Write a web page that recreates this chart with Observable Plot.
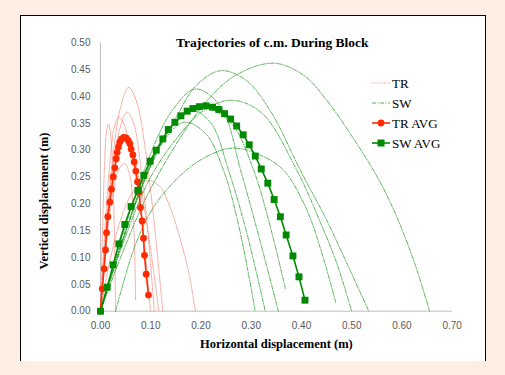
<!DOCTYPE html>
<html>
<head>
<meta charset="utf-8">
<script src="https://cdn.jsdelivr.net/npm/d3@7"></script>
<script src="https://cdn.jsdelivr.net/npm/@observablehq/plot@0.6"></script>
<style>
  html, body { margin: 0; padding: 0; background: #fdede2; width: 505px; height: 375px; overflow: hidden; }
  #box { position: absolute; left: 20px; top: 15px; width: 464px; height: 345px; background: #fff;
         border-left: 1px solid #000; border-top: 1px solid #000; border-right: 1px solid #000; }
  #chart { position: absolute; left: 0; top: 0; }
  #legend { position: absolute; left: 0; top: 0; }
</style>
</head>
<body>
<div id="box"></div>
<div id="chart"></div>
<svg id="legend" width="505" height="375"></svg>
<script>
// ---- data ----
const xTicks = [0, 0.1, 0.2, 0.3, 0.4, 0.5, 0.6, 0.7];
const yTicks = [0, 0.05, 0.1, 0.15, 0.2, 0.25, 0.3, 0.35, 0.4, 0.45, 0.5];

const trAvgX = [0, 0.0033, 0.0073, 0.010, 0.012, 0.0146, 0.0186, 0.0219, 0.0252, 0.0285, 0.0312, 0.0332, 0.0358, 0.0385, 0.0418, 0.0464, 0.0511, 0.055, 0.0584, 0.061, 0.0644, 0.0670, 0.0703, 0.0736, 0.0769, 0.0796, 0.0829, 0.0856, 0.0876, 0.0909, 0.0955];
const trAvgY = [0, 0.0416, 0.0789, 0.114, 0.146, 0.176, 0.203, 0.227, 0.250, 0.267, 0.284, 0.296, 0.306, 0.315, 0.321, 0.324, 0.323, 0.318, 0.312, 0.302, 0.291, 0.278, 0.261, 0.241, 0.222, 0.193, 0.168, 0.136, 0.104, 0.069, 0.030];

const swAvgX = [0, 0.0133, 0.0252, 0.0365, 0.0484, 0.0610, 0.0743, 0.0862, 0.0988, 0.111, 0.124, 0.135, 0.148, 0.160, 0.1725, 0.184, 0.197, 0.210, 0.223, 0.2355, 0.247, 0.259, 0.271, 0.284, 0.296, 0.308, 0.320, 0.333, 0.3456, 0.358, 0.3695, 0.383, 0.395, 0.407];
const swAvgY = [0, 0.0447, 0.0863, 0.1255, 0.1615, 0.195, 0.225, 0.253, 0.2795, 0.300, 0.321, 0.3385, 0.352, 0.364, 0.3727, 0.3776, 0.381, 0.3826, 0.380, 0.3758, 0.368, 0.358, 0.345, 0.3286, 0.310, 0.289, 0.265, 0.2385, 0.208, 0.176, 0.142, 0.103, 0.064, 0.0205];

// individual trials, TR (points [x, y])
const tr1 = [[0,0],[0.004,0.15],[0.008,0.27],[0.012,0.335],[0.016,0.349],[0.021,0.32],[0.025,0.24],[0.028,0.13],[0.030,0]];
const tr2 = [[0,0],[0.01,0.17],[0.02,0.29],[0.028,0.345],[0.036,0.361],[0.046,0.35],[0.06,0.30],[0.075,0.22],[0.088,0.12],[0.0995,0]];
const tr3 = [[0,0],[0.012,0.15],[0.025,0.27],[0.04,0.345],[0.053,0.371],[0.066,0.35],[0.08,0.27],[0.093,0.16],[0.107,0]];
const tr4 = [[0,0],[0.012,0.16],[0.025,0.29],[0.04,0.38],[0.056,0.417],[0.072,0.39],[0.088,0.31],[0.104,0.19],[0.124,0]];
const tr5 = [[0,0],[0.012,0.13],[0.025,0.22],[0.037,0.265],[0.048,0.275],[0.058,0.255],[0.064,0.20],[0.068,0.11],[0.070,0.02]];
const tr6 = [[0,0],[0.02,0.10],[0.04,0.17],[0.06,0.215],[0.08,0.238],[0.0995,0.243],[0.12,0.23],[0.14,0.19],[0.16,0.13],[0.175,0.075],[0.189,0]];
const tr7 = [[0,0],[0.01,0.14],[0.022,0.25],[0.035,0.31],[0.046,0.33],[0.06,0.31],[0.078,0.24],[0.096,0.14],[0.116,0]];

// individual trials, SW
const swA = [[0,0],[0.04,0.10],[0.09,0.21],[0.15,0.31],[0.21,0.39],[0.27,0.44],[0.345,0.462],[0.405,0.439],[0.451,0.392],[0.4975,0.33],[0.551,0.25],[0.59,0.175],[0.625,0.09],[0.655,0]];
const swB = [[0,0],[0.04,0.12],[0.08,0.23],[0.12,0.31],[0.166,0.352],[0.21,0.33],[0.245,0.262],[0.275,0.16],[0.308,0]];
const swC = [[0,0],[0.04,0.12],[0.09,0.25],[0.13,0.33],[0.18,0.375],[0.22,0.35],[0.255,0.262],[0.29,0.15],[0.328,0]];
const swD = [[0,0],[0.04,0.13],[0.09,0.27],[0.14,0.37],[0.189,0.414],[0.24,0.38],[0.279,0.262],[0.315,0.14],[0.354,0]];
const swE = [[0,0],[0.04,0.12],[0.09,0.25],[0.14,0.34],[0.20,0.38],[0.26,0.35],[0.305,0.262],[0.34,0.15],[0.368,0.042]];
const swF = [[0.03,0],[0.07,0.125],[0.11,0.20],[0.17,0.262],[0.22,0.292],[0.265,0.304],[0.32,0.29],[0.365,0.262],[0.41,0.19],[0.44,0.11],[0.468,0.017]];
const swG = [[0,0],[0.05,0.14],[0.10,0.25],[0.15,0.32],[0.20,0.37],[0.259,0.393],[0.32,0.37],[0.391,0.262],[0.44,0.16],[0.47,0.09],[0.50,0]];
const swH = [[0,0],[0.05,0.15],[0.10,0.27],[0.15,0.36],[0.19,0.42],[0.239,0.448],[0.29,0.43],[0.34,0.37],[0.398,0.262],[0.45,0.17],[0.49,0.09],[0.534,0]];

const trTrials = [tr1, tr2, tr3, tr4, tr5, tr6, tr7];
const swTrials = [swA, swB, swC, swD, swE, swF, swG, swH];

const legendLabels = ["TR", "SW", "TR AVG", "SW AVG"];

// ---- build tables ----
const trRows = trTrials.flatMap((pts, i) => pts.map(([x, y]) => ({trial: "TR" + i, x, y})));
const swRows = swTrials.flatMap((pts, i) => pts.map(([x, y]) => ({trial: "SW" + i, x, y})));
const trAvg = trAvgX.map((x, i) => ({x, y: trAvgY[i]}));
const swAvg = swAvgX.map((x, i) => ({x, y: swAvgY[i]}));

const RED = "#ff2a00", GREEN = "#008a00";
const TRC = "#f3796a", SWC = "#2fa02f";
const SERIF = "Liberation Serif, Times New Roman, serif";

const plot = Plot.plot({
  width: 505, height: 375,
  marginLeft: 100, marginRight: 53.3, marginTop: 42.3, marginBottom: 64.3,
  style: {background: "transparent", fontFamily: "Liberation Sans, Arial, sans-serif", fontSize: "10px", color: "#595959", overflow: "visible"},
  x: {domain: [0, 0.7], ticks: xTicks, tickFormat: d3.format(".2f"), label: null},
  y: {domain: [0, 0.5], ticks: yTicks, tickFormat: d3.format(".2f"), label: null},
  marks: [
    Plot.ruleX([0], {y1: 0, y2: 0.5, stroke: "#bfbfbf", strokeWidth: 1}),
    Plot.ruleY([0], {x1: 0, x2: 0.7, stroke: "#bfbfbf", strokeWidth: 1}),
    Plot.axisX({ticks: xTicks, tickSize: 0, tickPadding: 11, tickFormat: d3.format(".2f"), fill: "#595959", label: null}),
    Plot.axisY({ticks: yTicks, tickSize: 0, tickPadding: 10, tickFormat: d3.format(".2f"), fill: "#595959", label: null}),
    Plot.line(trRows, {x: "x", y: "y", z: "trial", curve: "catmull-rom", stroke: TRC, strokeWidth: 0.8, strokeDasharray: "1.2,1.2", strokeOpacity: 0.9}),
    Plot.line(swRows, {x: "x", y: "y", z: "trial", curve: "catmull-rom", stroke: SWC, strokeWidth: 0.8, strokeDasharray: "4,1.5,1,1.5"}),
    Plot.line(trAvg, {x: "x", y: "y", stroke: RED, strokeWidth: 1.6}),
    Plot.dot(trAvg, {x: "x", y: "y", r: 3.4, fill: RED, stroke: "none", symbol: "circle"}),
    Plot.line(swAvg, {x: "x", y: "y", stroke: GREEN, strokeWidth: 1.6}),
    Plot.dot(swAvg, {x: "x", y: "y", r: 3.9, fill: GREEN, stroke: "none", symbol: "square"}),
    Plot.text(["Trajectories of c.m. During Block"], {frameAnchor: "top", lineAnchor: "middle", dy: 0, dx: -4, text: d => d, fontFamily: SERIF, fontWeight: "bold", fontSize: 13.5, fill: "#000"}),
    Plot.text(["Horizontal displacement (m)"], {frameAnchor: "bottom", lineAnchor: "middle", dy: 32.5, text: d => d, fontFamily: SERIF, fontWeight: "bold", fontSize: 12.5, fill: "#000"}),
    Plot.text(["Vertical displacement (m)"], {frameAnchor: "left", textAnchor: "middle", lineAnchor: "middle", dx: -57, dy: 24, rotate: -90, text: d => d, fontFamily: SERIF, fontWeight: "bold", fontSize: 12.5, fill: "#000"})
  ]
});
document.getElementById("chart").appendChild(plot);

// ---- legend ----
const lg = d3.select("#legend");
const styles = [
  {stroke: TRC, dash: "1.2,1.2", w: 0.8, sym: null},
  {stroke: SWC, dash: "4,1.5,1,1.5", w: 0.8, sym: null},
  {stroke: RED, dash: null, w: 1.6, sym: "circle", fill: RED},
  {stroke: GREEN, dash: null, w: 1.6, sym: "square", fill: GREEN}
];
legendLabels.forEach((lab, i) => {
  const y = 83 + i * 20;
  const s = styles[i];
  lg.append("line").attr("x1", 372).attr("x2", 390).attr("y1", y).attr("y2", y)
    .attr("stroke", s.stroke).attr("stroke-width", s.w).attr("stroke-dasharray", s.dash);
  if (s.sym === "circle") lg.append("circle").attr("cx", 381).attr("cy", y).attr("r", 3.4).attr("fill", s.fill);
  if (s.sym === "square") lg.append("rect").attr("x", 377.5).attr("y", y - 3.5).attr("width", 7).attr("height", 7).attr("fill", s.fill);
  lg.append("text").attr("x", 392).attr("y", y).attr("dy", "0.35em")
    .attr("font-family", SERIF).attr("font-size", 13).attr("fill", "#000").text(lab);
});
</script>
</body>
</html>
